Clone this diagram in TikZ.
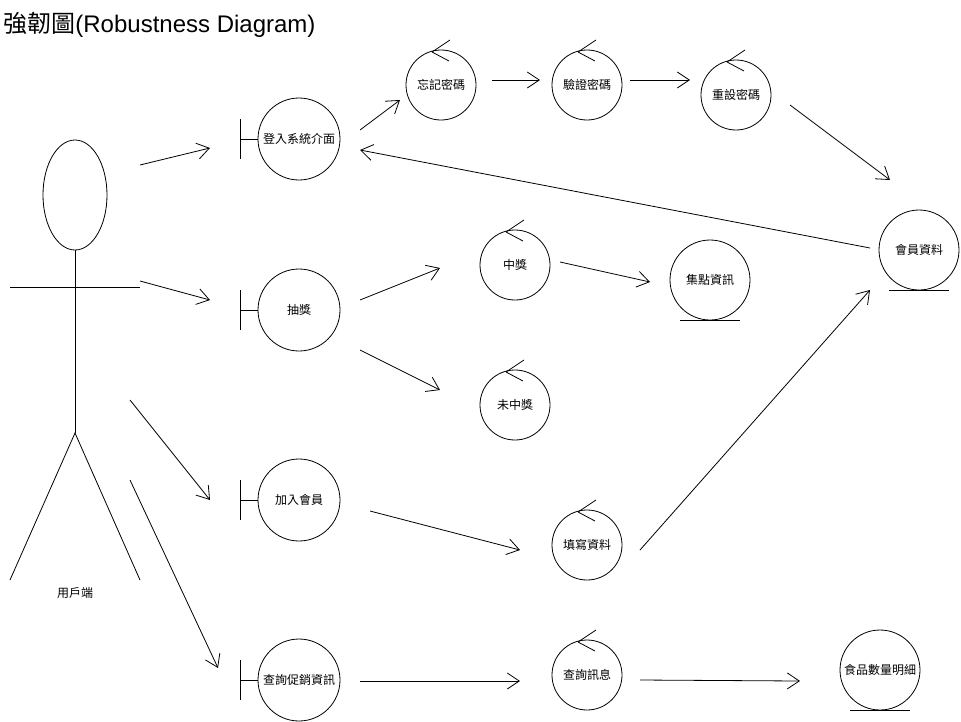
\documentclass[tikz,border=0pt]{standalone}
\usepackage{fontspec}
\setmainfont{Liberation Sans}
\newfontfamily\cjk{Noto Sans CJK TC}
\usetikzlibrary{arrows.meta,shapes.geometric}
\newcommand\ctrlobj[4]{%
  \node[obj=70pt] (#1) at (#2,#3) {#4};
  \draw ([shift={(-9,-33)}]#1.center) -- ++(18,-12)
        ([shift={(-9,-33)}]#1.center) -- ++(17,9);
}
\newcommand\entobj[4]{%
  \node[obj=80pt] (#1) at (#2,#3) {#4};
  \draw ([xshift=-30pt]#1.south) -- ([xshift=30pt]#1.south);
}
\newcommand\bndobj[4]{%
  \node[obj=82pt] (#1) at (#2,#3) {#4};
  \draw ([xshift=-17pt]#1.west) -- (#1.west);
  \draw ([shift={(-17,-20)}]#1.west) -- ([shift={(-17,20)}]#1.west);
}
\begin{document}
\begin{tikzpicture}[x=1pt,y=-1pt,line width=0.8pt,
  every node/.style={font=\cjk\fontsize{12}{14}\selectfont,inner sep=0pt},
  obj/.style={draw,circle,minimum size=#1},
  flow/.style={-{Straight Barb[length=12pt,width=16pt]}}]
\useasboundingbox (0,0) rectangle (961,721);

\node[anchor=base west,font=\fontsize{24}{28}\selectfont] (title) at (3,32) {{\cjk 強韌圖}(Robustness Diagram)};

% actor
\node[draw,ellipse,minimum width=64pt,minimum height=110pt] (head) at (75,195) {};
\coordinate (hip) at (75,433);
\coordinate (armL) at (10,287);
\coordinate (armR) at (140,287);
\coordinate (legL) at (10,580);
\coordinate (legR) at (140,580);
\draw (head.south) -- (hip);
\draw (armL) -- (armR);
\draw (legL) -- (hip) -- (legR);
\node (actor) at (75,593) {用戶端};

% objects
\bndobj{login}{299}{139}{登入系統介面}
\ctrlobj{forgot}{441}{85}{忘記密碼}
\ctrlobj{verify}{587}{85}{驗證密碼}
\ctrlobj{reset}{736}{95}{重設密碼}
\entobj{member}{919}{250}{會員資料}
\bndobj{lottery}{299}{310}{抽獎}
\ctrlobj{win}{515}{265}{中獎}
\ctrlobj{lose}{515}{405}{未中獎}
\entobj{points}{710}{280}{集點資訊}
\bndobj{join}{299}{500}{加入會員}
\ctrlobj{fill}{587}{545}{填寫資料}
\bndobj{promo}{299}{680}{查詢促銷資訊}
\ctrlobj{query}{587}{675}{查詢訊息}
\entobj{food}{880}{670}{食品數量明細}

% connector end points
\coordinate (a1s) at (140,165); \coordinate (a1e) at (210,148);
\coordinate (a2s) at (140,281); \coordinate (a2e) at (210,300);
\coordinate (a3s) at (130,400); \coordinate (a3e) at (210,500);
\coordinate (a4s) at (130,480); \coordinate (a4e) at (218,668);
\coordinate (c1s) at (360,130); \coordinate (c1e) at (400,100);
\coordinate (c2s) at (492,80);  \coordinate (c2e) at (540,80);
\coordinate (c3s) at (630,80);  \coordinate (c3e) at (690,80);
\coordinate (c4s) at (790,105); \coordinate (c4e) at (890,180);
\coordinate (c5s) at (870,248); \coordinate (c5e) at (360,150);
\coordinate (c6s) at (360,300); \coordinate (c6e) at (440,268);
\coordinate (c7s) at (360,350); \coordinate (c7e) at (440,390);
\coordinate (c8s) at (560,262); \coordinate (c8e) at (650,282);
\coordinate (c9s) at (370,511); \coordinate (c9e) at (520,550);
\coordinate (c10s) at (640,550); \coordinate (c10e) at (870,290);
\coordinate (c11s) at (360,681); \coordinate (c11e) at (520,681);
\coordinate (c12s) at (640,680); \coordinate (c12e) at (800,681);

\draw[flow] (a1s) -- (a1e);
\draw[flow] (a2s) -- (a2e);
\draw[flow] (a3s) -- (a3e);
\draw[flow] (a4s) -- (a4e);
\draw[flow] (c1s) -- (c1e);
\draw[flow] (c2s) -- (c2e);
\draw[flow] (c3s) -- (c3e);
\draw[flow] (c4s) -- (c4e);
\draw[flow] (c5s) -- (c5e);
\draw[flow] (c6s) -- (c6e);
\draw[flow] (c7s) -- (c7e);
\draw[flow] (c8s) -- (c8e);
\draw[flow] (c9s) -- (c9e);
\draw[flow] (c10s) -- (c10e);
\draw[flow] (c11s) -- (c11e);
\draw[flow] (c12s) -- (c12e);
\end{tikzpicture}
\end{document}
